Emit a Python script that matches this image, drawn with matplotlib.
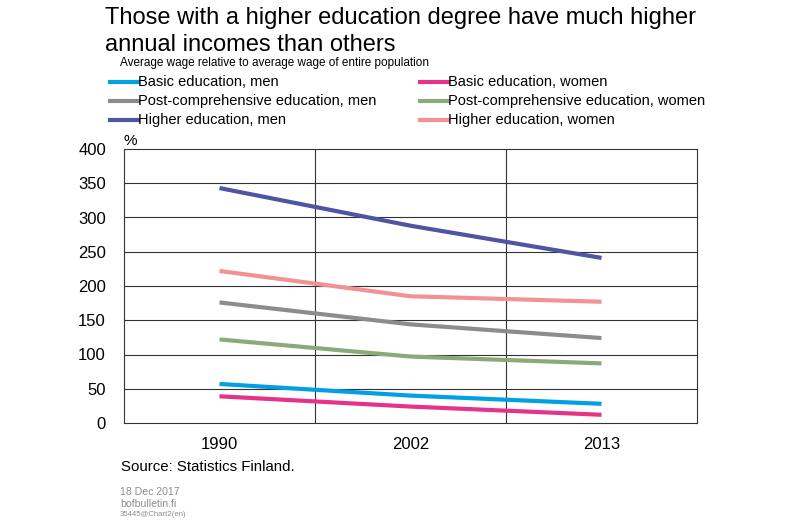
import matplotlib
matplotlib.use("Agg")
import matplotlib.pyplot as plt
from matplotlib.lines import Line2D

plt.rcParams["font.family"] = ["Liberation Sans", "DejaVu Sans"]

years = ["1990", "2002", "2013"]
series_names = [
    "Basic education, men",
    "Basic education, women",
    "Post-comprehensive education, men",
    "Post-comprehensive education, women",
    "Higher education, men",
    "Higher education, women",
]
basic_men = [57, 40, 28]
basic_women = [39, 24, 12]
post_men = [176, 144, 124]
post_women = [122, 97, 87]
higher_men = [343, 288, 241]
higher_women = [222, 185, 177]
values = [basic_men, basic_women, post_men, post_women, higher_men, higher_women]
colors = ["#00A0E3", "#E5338B", "#8C8C8C", "#8BAA7A", "#4E55A2", "#F29292"]
y_ticks = [0, 50, 100, 150, 200, 250, 300, 350, 400]

W, H = 800, 523
fig = plt.figure(figsize=(W / 100, H / 100), dpi=100)
ax = fig.add_axes([124 / W, 1 - 423 / H, (697 - 124) / W, (423 - 149) / H])

x = list(range(len(years)))
for vals, c in zip(values, colors):
    ax.plot(x, vals, color=c, linewidth=3, solid_capstyle="butt", zorder=3)

ax.set_xlim(-0.5, len(years) - 0.5)
ax.set_ylim(0, 400)
ax.set_yticks(y_ticks)
ax.set_xticks(x)
ax.set_xticklabels(years)
ax.tick_params(axis="both", length=0, labelsize=12, colors="black")
ax.tick_params(axis="y", pad=13)
ax.tick_params(axis="x", pad=10)
for yv in y_ticks[1:-1]:
    ax.axhline(yv, color="#333333", linewidth=0.8, zorder=1)
for xv in [0.5, 1.5]:
    ax.axvline(xv, color="#333333", linewidth=0.8, zorder=1)
for s in ax.spines.values():
    s.set_color("#333333")
    s.set_linewidth(0.8)
ax.text(0.0, 1.005, "%", transform=ax.transAxes, fontsize=11, ha="left", va="bottom")

fig.text(105 / W, 1 - 7 / H, "Those with a higher education degree have much higher\nannual incomes than others",
         fontsize=17, ha="left", va="top", linespacing=1.3)
fig.text(120 / W, 1 - 63 / H, "Average wage relative to average wage of entire population",
         fontsize=8.5, ha="left", va="center")

# legend drawn manually in two columns
col_x = [110, 420]
row_y = [82, 101, 120]
for i, (name, c) in enumerate(zip(series_names, colors)):
    cx = col_x[i % 2]
    cy = 1 - row_y[i // 2] / H
    fig.add_artist(Line2D([cx / W, (cx + 28) / W], [cy, cy], color=c, linewidth=3,
                          transform=fig.transFigure))
    fig.text((cx + 28) / W, cy, name, fontsize=10.5, ha="left", va="center")

fig.text(121 / W, 1 - 467 / H, "Source: Statistics Finland.", fontsize=10.8, ha="left", va="center")
fig.text(120 / W, 1 - 492 / H, "18 Dec 2017", fontsize=7.6, color="#8C8C8C", ha="left", va="center")
fig.text(120 / W, 1 - 504 / H, "bofbulletin.fi", fontsize=7.6, color="#8C8C8C", ha="left", va="center")
fig.text(120 / W, 1 - 515 / H, "35445@Chart2(en)", fontsize=5.6, color="#8C8C8C", ha="left", va="center")

fig.savefig("out.png", dpi=100)
